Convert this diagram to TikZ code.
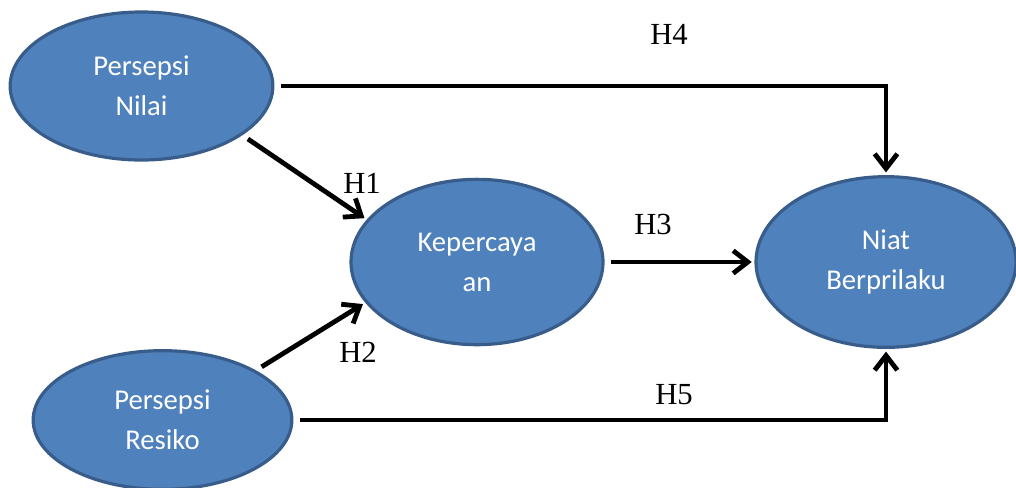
\documentclass[tikz,border=0pt]{standalone}
\usepackage{fontspec}
\setmainfont{Liberation Serif}
\newfontfamily\calibrifont{Carlito}
\usepackage{tikz}
\usetikzlibrary{shapes.geometric,arrows.meta}

\definecolor{varfill}{RGB}{79,129,189}
\definecolor{varline}{RGB}{56,93,138}

\tikzset{
  variabel/.style={ellipse, draw=varline, line width=2.4pt, fill=varfill, inner sep=0pt,
    text=white, align=center, font=\calibrifont\fontsize{21.5}{30}\selectfont},
  hipotesis/.style={inner sep=0.75pt, font=\fontsize{23}{28}\selectfont},
  panah/.style={line width=3.6pt, -{Straight Barb[length=11pt,width=17pt]}, shorten >=2pt, shorten <=5pt}
}

\begin{document}
\begin{tikzpicture}[x=0.75pt,y=0.75pt,yscale=-1,xscale=1]
\useasboundingbox (0,0) rectangle (1016,487);

%Shape: Ellipse [Persepsi Nilai]
\draw (141.5,86) node [variabel, minimum width=197pt, minimum height=111pt] (pn) {Persepsi\\Nilai};
%Shape: Ellipse [Kepercayaan]
\draw (477,262) node [variabel, minimum width=189pt, minimum height=124pt] (kp) {Kepercaya\\an};
%Shape: Ellipse [Persepsi Resiko]
\draw (162.5,420) node [variabel, minimum width=194pt, minimum height=104pt] (pr) {Persepsi\\Resiko};
%Shape: Ellipse [Niat Berprilaku]
\draw (886,262) node [variabel, minimum width=195pt, minimum height=128pt] (nb) {Niat\\Berprilaku};

%Connectors
\draw [panah] (pn.east) -| (nb.north);
\draw [panah] (pn.-26) -- (kp.159);
\draw [panah] (pr.28) -- (kp.200);
\draw [panah] (kp.east) -- (nb.west);
\draw [panah] (pr.east) -| (nb.south);

% Text Node
\draw (669,34) node [hipotesis] (h4) {H4};
% Text Node
\draw (362,183) node [hipotesis] (h1) {H1};
% Text Node
\draw (653,224) node [hipotesis] (h3) {H3};
% Text Node
\draw (358,352) node [hipotesis] (h2) {H2};
% Text Node
\draw (674,395) node [hipotesis] (h5) {H5};

\end{tikzpicture}
\end{document}
